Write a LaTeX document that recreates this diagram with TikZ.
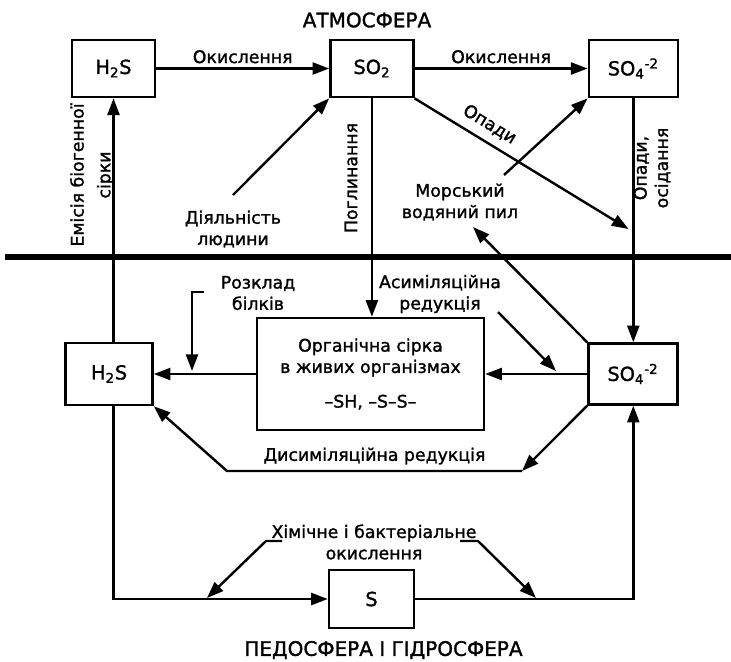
\documentclass[tikz,border=0pt]{standalone}
\usepackage{fontspec}
\setmainfont{DejaVu Sans}[FakeBold=1.4]
\usetikzlibrary{arrows.meta,positioning,calc}
\newcommand\cyclefont{\fontsize{13}{16}\selectfont}
\newcommand\boxfont{\fontsize{14.5}{17}\selectfont}
\newcommand\titlefont{\fontsize{15}{18}\selectfont}
\tikzset{
    box/.style={
        draw,line width=1.8pt,minimum width=#1,minimum height=43pt,
        inner sep=2pt,align=center,font=\boxfont
    },
    box/.default=62.25pt,
    lbl/.style={align=center,inner sep=1pt},
    arrow/.style={
        -{Triangle[length=12.5pt,width=9pt]},line width=1.8pt
    },
    divider/.style={line width=4.5pt}
}
\begin{document}
\begin{tikzpicture}[x=0.75pt,y=-0.75pt,font=\cyclefont]
\useasboundingbox (0,0) rectangle (731,661);

% atmosphere
\node[lbl,font=\titlefont] (atm) at (367,20) {АТМОСФЕРА};
\node[box] (h2st) at (113.5,68.5) {H\textsubscript{2}S};
\node[box,right=129.75pt of h2st] (so2) {SO\textsubscript{2}};
\node[box=66.75pt,right=129.75pt of so2] (so4t) {SO\textsubscript{4}\textsuperscript{-2}};

\node[lbl,rotate=90] (emis) at (92,175) {Емісія біогенної\\[4pt]сірки};
\node[lbl] (hum) at (233,229) {Діяльність\\людини};
\node[lbl,rotate=90] (absorb) at (351,178) {Поглинання};
\node[lbl] (spray) at (460,202) {Морський\\водяний пил};
\node[lbl,rotate=90] (settle) at (652,168) {Опади,\\осідання};

% pedosphere and hydrosphere
\node[box=170.25pt,minimum height=84pt,font=\cyclefont] (org) at (370.5,374)
{Органічна сірка\\в живих організмах\\[10pt]–SH, –S–S–};
\node[box=65.25pt,minimum height=46.5pt,left=76.5pt of org] (h2sb) {H\textsubscript{2}S};
\node[box=66.75pt,minimum height=45.75pt,right=76.5pt of org] (so4b) {SO\textsubscript{4}\textsuperscript{-2}};
\node[box=63.75pt,minimum height=43.5pt] (sbox) at (371.5,599) {S};

\node[lbl] (decay) at (258,293) {Розклад\\білків};
\node[lbl] (assim) at (440,294) {Асиміляційна\\редукція};
\node[lbl] (chem) at (374,542) {Хімічне і бактеріальне\\окислення};
\node[lbl,font=\titlefont] (ped) at (383.5,650) {ПЕДОСФЕРА І ГІДРОСФЕРА};

\coordinate (wl) at (5,257);
\coordinate (wr) at (731,257);
\coordinate (hm) at (233,195);
\coordinate (fall) at (628.5,229);
\coordinate (sp1) at (504,175);
\coordinate (sp2) at (473,227);
\coordinate (dk1) at (204,292);
\coordinate (dk2) at (192,371);
\coordinate (as1) at (498,312);
\coordinate (as2) at (556,371);
\coordinate (dr) at (522,471);
\coordinate (dl) at (227,471);
\coordinate (cl1) at (282,541);
\coordinate (cl2) at (266,541);
\coordinate (cl3) at (207,598);
\coordinate (cr1) at (460,541);
\coordinate (cr2) at (478,541);
\coordinate (cr3) at (536,598);

\draw[divider] (wl) -- (wr);

\draw[arrow] (h2st) -- node[lbl,above=2pt] {Окислення} (so2);
\draw[arrow] (so2) -- node[lbl,above=2pt] {Окислення} (so4t);
\draw[arrow] (h2st.south |- h2sb.north) -- (h2st.south);
\draw[arrow] (hm) -- (so2.south west);
\draw[arrow] (so2.south) -- (so2.south |- org.north);
\draw[arrow] (so2.south east) -- node[lbl,pos=0.31,sloped,above=5pt] {Опади} (fall);
\draw[arrow] (so4t.south) -- (so4t.south |- so4b.north);
\draw[arrow] (sp1) -- (so4t.south west);
\draw[arrow] (so4b.north west) -- (sp2);

\draw[arrow] (org) -- (h2sb);
\draw[arrow] (so4b) -- (org);
\draw[arrow] (dk1) -| (dk2);
\draw[arrow] (as1) -- (as2);
\draw[arrow] (so4b.south west) -- (dr);
\draw[arrow] (dr) -- node[lbl,above=3pt] {Дисиміляційна редукція} (dl) -- (h2sb.south east);

\draw[arrow] (h2st.south |- h2sb.south) |- (sbox.west);
\draw[arrow] (sbox.east) -| (so4t.south |- so4b.south);
\draw[arrow] (cl1) -- (cl2) -- (cl3);
\draw[arrow] (cr1) -- (cr2) -- (cr3);

\end{tikzpicture}
\end{document}
